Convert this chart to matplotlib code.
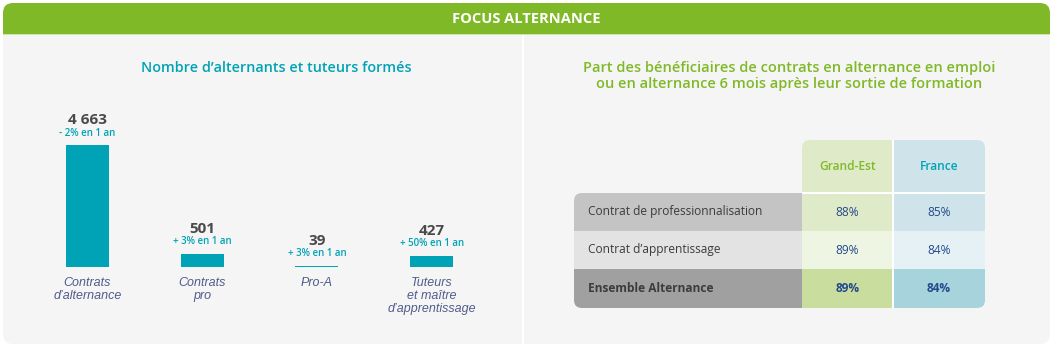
import matplotlib
matplotlib.use("Agg")
import matplotlib.pyplot as plt
from matplotlib.patches import FancyBboxPatch, Rectangle

plt.rcParams['font.family'] = ['Open Sans', 'DejaVu Sans']
ITALIC_FAMILY = ['Liberation Sans', 'DejaVu Sans']

# ---------------- data ----------------
header_title = "FOCUS ALTERNANCE"
bar_title = "Nombre d\u2019alternants et tuteurs formés"
bar_categories = ["Contrats\nd\u2019alternance", "Contrats\npro", "Pro-A",
                  "Tuteurs\net maître\nd\u2019apprentissage"]
bar_values = [4663, 501, 39, 427]
bar_value_labels = ["4 663", "501", "39", "427"]
bar_changes = ["- 2% en 1 an", "+ 3% en 1 an", "+ 3% en 1 an", "+ 50% en 1 an"]

table_title = ("Part des bénéficiaires de contrats en alternance en emploi\n"
               "ou en alternance 6 mois après leur sortie de formation")
table_columns = ["Grand-Est", "France"]
table_rows = ["Contrat de professionnalisation", "Contrat d\u2019apprentissage",
              "Ensemble Alternance"]
table_values = [[88, 85], [89, 84], [89, 84]]

# ---------------- colours ----------------
GREEN = "#80b927"
TEAL = "#00a3b6"
PANEL = "#f5f5f5"
DARK = "#4a4a4a"
SLATE = "#505c8c"
NAVY = "#244a8c"
row_label_colors = ["#c4c4c4", "#e3e3e3", "#a0a0a0"]
col_colors = [["#dfebc8", "#dfebc8", "#eef5e3", "#c8dd9e"],
              ["#cfe4ea", "#cfe4ea", "#e6f1f6", "#a6d3dc"]]
col_text_colors = [GREEN, TEAL]

W, H = 1053, 350
fig = plt.figure(figsize=(W / 100, H / 100), dpi=100)
fig.patch.set_facecolor("white")

bg = fig.add_axes([0, 0, 1, 1])
bg.set_xlim(0, W)
bg.set_ylim(H, 0)
bg.axis("off")


def rounded_cell(x0, y0, w, h, color, corners, r=8):
    """Rectangle with only the listed corners rounded (tl, tr, bl, br)."""
    bg.add_patch(FancyBboxPatch((x0, y0), w, h, boxstyle=f"round,pad=0,rounding_size={r}",
                                facecolor=color, edgecolor="none"))
    squares = {"tl": (x0, y0), "tr": (x0 + w - r, y0),
               "bl": (x0, y0 + h - r), "br": (x0 + w - r, y0 + h - r)}
    for k, (sx, sy) in squares.items():
        if k not in corners:
            bg.add_patch(Rectangle((sx, sy), r, r, facecolor=color, edgecolor="none"))


# panel body and header
rounded_cell(3, 34, 1047, 310, PANEL, ("bl", "br"), r=10)
rounded_cell(3, 3, 1047, 31, GREEN, ("tl", "tr"), r=10)
bg.add_patch(Rectangle((3, 34), 1047, 1, facecolor="#cfe3b0", edgecolor="none"))
bg.text(526, 19, header_title, color="white", fontsize=10.5, fontweight="bold",
        ha="center", va="center")
bg.add_patch(Rectangle((522, 35), 2, 309, facecolor="white", edgecolor="none"))

# ---------------- left: bar chart ----------------
bg.text(276, 68, bar_title, color=TEAL, fontsize=10.4, fontweight="semibold",
        ha="center", va="center")

ax = fig.add_axes([30 / W, (H - 267) / H, 459 / W, 122 / H])
ax.set_facecolor("none")
x = list(range(len(bar_values)))
ax.bar(x, bar_values, width=0.375, color=TEAL)
ax.set_xlim(-0.5, len(bar_values) - 0.5)
ax.set_ylim(0, max(bar_values))
ax.axis("off")
for i, v in enumerate(bar_values):
    ax.annotate(bar_value_labels[i], (i, v), xytext=(0, 25), textcoords="offset pixels",
                ha="center", va="center", fontsize=11, fontweight="bold", color=DARK,
                annotation_clip=False)
    ax.annotate(bar_changes[i], (i, v), xytext=(0, 12), textcoords="offset pixels",
                ha="center", va="center", fontsize=7, fontweight="semibold", color=TEAL,
                annotation_clip=False)
    ax.annotate(bar_categories[i], (i, 0), xytext=(0, -10), textcoords="offset pixels",
                ha="center", va="top", fontsize=9, style="italic", color=SLATE,
                family=ITALIC_FAMILY, linespacing=1.1, annotation_clip=False)

# ---------------- right: table ----------------
bg.text(789, 76, table_title, color=GREEN, fontsize=10.5, fontweight="semibold",
        ha="center", va="center", linespacing=1.25)

label_x0, label_x1 = 574, 802
col_edges = [802, 893, 985]
row_edges = [140, 193, 231, 269, 308]
nrows = len(table_rows)

for r, name in enumerate(table_rows):
    y0, y1 = row_edges[r + 1], row_edges[r + 2]
    corners = ("tl",) if r == 0 else (("bl",) if r == nrows - 1 else ())
    rounded_cell(label_x0, y0, label_x1 - label_x0, y1 - y0, row_label_colors[r], corners)
    bg.text(label_x0 + 14, (y0 + y1) / 2, name, color="#3c3c3c", fontsize=8.6,
            fontweight="bold" if r == nrows - 1 else "normal", ha="left", va="center")

for ci, col in enumerate(table_columns):
    cx0, cx1 = col_edges[ci], col_edges[ci + 1]
    last_col = ci == len(table_columns) - 1
    for ri in range(nrows + 1):
        y0, y1 = row_edges[ri], row_edges[ri + 1]
        if ri == 0:
            corners = ("tr",) if last_col else ("tl",)
        elif ri == nrows and last_col:
            corners = ("br",)
        else:
            corners = ()
        rounded_cell(cx0, y0, cx1 - cx0, y1 - y0, col_colors[ci][ri], corners)
        cy = (y0 + y1) / 2
        if ri == 0:
            bg.text((cx0 + cx1) / 2, cy, col, color=col_text_colors[ci], fontsize=8.6,
                    fontweight="semibold", ha="center", va="center")
        else:
            bg.text((cx0 + cx1) / 2, cy, f"{table_values[ri - 1][ci]}%", color=NAVY,
                    fontsize=8.6, fontweight="bold" if ri == nrows else "normal",
                    ha="center", va="center")
    if ci > 0:
        bg.add_patch(Rectangle((cx0 - 0.6, row_edges[0]), 1.2, row_edges[-1] - row_edges[0],
                               facecolor="white", edgecolor="none"))
    bg.add_patch(Rectangle((cx0, row_edges[1] - 0.6), cx1 - cx0, 1.2,
                           facecolor="white", edgecolor="none"))

fig.savefig("out.png", dpi=100, facecolor=fig.get_facecolor())
